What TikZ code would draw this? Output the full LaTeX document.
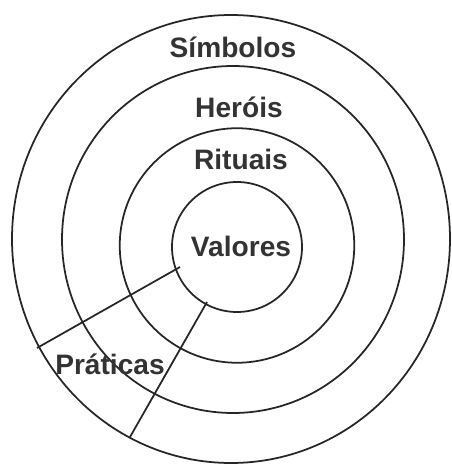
\documentclass[tikz,border=0pt]{standalone}
\usepackage{fontspec}
\setmainfont{Liberation Sans}
\tikzset{
  ring/.style={draw=black!85, line width=1pt},
  layer/.style={font=\fontsize{16}{18}\selectfont\bfseries, text=black!80, anchor=base, inner sep=0pt}
}
\begin{document}
\begin{tikzpicture}[scale=1.0]
  \useasboundingbox (0, 0) rectangle (9.04, 9.32);

  % the four layers, outside in
  \draw[ring] (4.62, 4.54) ellipse [x radius=4.38, y radius=4.48];
  \draw[ring] (4.66, 4.53) ellipse [x radius=3.42, y radius=3.47];
  \draw[ring] (4.74, 4.41) circle (2.345);
  \draw[ring] (4.74, 4.38) circle (1.30);

  % the practices wedge
  \coordinate (wedgeInA) at (3.60, 3.98);
  \coordinate (wedgeOutA) at (0.74, 2.36);
  \coordinate (wedgeInB) at (4.14, 3.28);
  \coordinate (wedgeOutB) at (2.60, 0.58);
  \draw[ring] (wedgeInA) -- (wedgeOutA);
  \draw[ring] (wedgeInB) -- (wedgeOutB);

  % labels
  \node[layer] (simbolos) at (4.66, 8.16) {Símbolos};
  \node[layer] (herois) at (4.78, 6.96) {Heróis};
  \node[layer] (rituais) at (4.82, 5.92) {Rituais};
  \node[layer] (valores) at (4.82, 4.18) {Valores};
  \node[layer] (praticas) at (2.20, 1.82) {Práticas};
\end{tikzpicture}
\end{document}
